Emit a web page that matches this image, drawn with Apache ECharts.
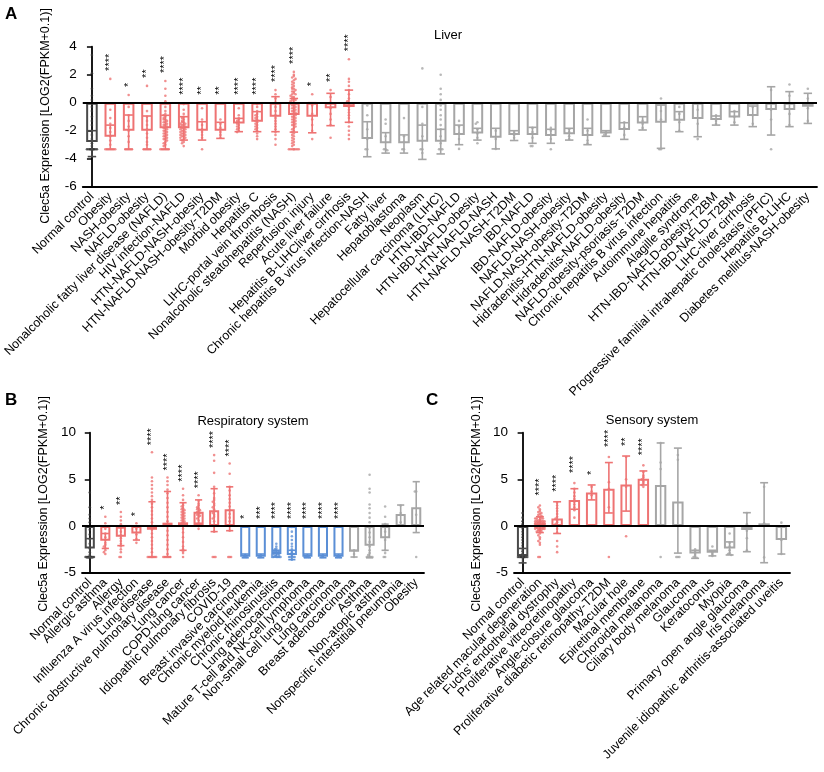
<!DOCTYPE html>
<html lang="en">
<head>
    <meta charset="UTF-8">
    <title>Clec5a expression</title>
    <script src="https://cdn.jsdelivr.net/npm/echarts@6/dist/echarts.min.js"></script>
    <style>
        * { margin: 0; padding: 0; }
        html, body { width: 824px; height: 772px; background: #fff; }
        #chart { width: 824px; height: 772px; }
    </style>
</head>
<body>
    <div id="chart"></div>
    <script>
        // ---------- Panel A: Liver ----------
        const catsA = ['Normal control', 'Obesity', 'NASH-obesity', 'NAFLD-obesity',
            'Nonalcoholic fatty liver disease (NAFLD)', 'HIV infection-NAFLD', 'HTN-NAFLD-NASH-obesity',
            'HTN-NAFLD-NASH-obesity-T2DM', 'Morbid obesity', 'Hepatitis C', 'LIHC-portal vein thrombosis',
            'Nonalcoholic steatohepatitis (NASH)', 'Reperfusion injury', 'Acute liver failure',
            'Hepatitis B-LIHCliver cirrhosis', 'Chronic hepatitis B virus infection-NASH', 'Fatty liver',
            'Hepatoblastoma', 'Neoplasm', 'Hepatocellular carcinoma (LIHC)', 'HTN-IBD-NAFLD',
            'HTN-IBD-NAFLD-obesity', 'HTN-NAFLD-NASH', 'HTN-NAFLD-NASH-T2DM', 'IBD-NAFLD',
            'IBD-NAFLD-obesity', 'NAFLD-NASH-obesity', 'NAFLD-NASH-obesity-T2DM',
            'Hidradenitis-HTN-NAFLD-obesity', 'Hidradenitis-NAFLD-obesity', 'NAFLD-obesity-psoriasis-T2DM',
            'Chronic hepatitis B virus infection', 'Autoimmune hepatitis', 'Alagille syndrome',
            'HTN-IBD-NAFLD-obesity-T2BM', 'HTN-IBD-NAFLD-T2BM', 'LIHC-liver cirrhosis',
            'Progressive familial intrahepatic cholestasis (PFIC)', 'Hepatitis B-LIHC',
            'Diabetes mellitus-NASH-obesity'];
        const meanA = [-2.8, -2.43, -2.0, -2.0, -1.83, -1.83, -2.0, -2.0, -1.48, -1.36, -1.0, -0.88, -1.0, -0.4, -0.3,
            -2.6, -2.9, -2.9, -2.79, -2.79, -2.31, -2.2, -2.5, -2.3, -2.3, -2.38, -2.26, -2.38, -2.2, -1.95,
            -1.48, -1.43, -1.29, -1.17, -1.24, -1.05, -0.95, -0.52, -0.52, -0.29];
        const hiA = [-2.0, -1.6, -0.88, -0.95, -0.9, -1.0, -1.36, -1.4, -1.12, -0.64, 0.43, 0.3, 0.0, 0.67, 0.9,
            -1.36, -2.14, -2.3, -1.6, -1.9, -1.6, -1.83, -1.83, -2.0, -1.76, -1.9, -1.83, -1.83, -2.0, -1.43,
            -1.0, -0.17, -0.64, 0.0, -0.95, -0.64, -0.24, 1.14, 0.79, 0.67];
        const loA = [-3.85, -3.33, -3.33, -3.33, -3.33, -2.67, -2.67, -2.55, -2.07, -2.07, -2.07, -2.1, -2.15, -1.64, -1.4,
            -3.86, -3.6, -3.6, -4.05, -3.66, -3.0, -2.67, -3.3, -2.7, -2.9, -2.9, -2.67, -3.0, -2.4, -2.62,
            -1.95, -3.26, -2.07, -2.43, -1.6, -1.6, -1.71, -2.31, -1.71, -1.48];
        const sigA = ['', '****', '*', '**', '****', '****', '**', '**', '****', '****', '****', '****', '*', '**', '****',
            '', '', '', '', '', '', '', '', '', '', '', '', '', '', '', '', '', '', '', '', '', '', '', '', ''];
        const ptsA = [
            [3.4, 2.1, 1.0, 0.5, 0.2, -0.3, -0.6, -1.0, -1.3, -1.6, -2.0, -2.3, -2.6, -2.9, -3.1, -3.32, -3.32, -3.32, -3.32, -3.32, -3.32, -3.32, -3.32, -3.32, -3.32],
            [1.7, -0.5, -1.1, -1.5, -1.8, -2.1, -2.4, -2.7, -3.0, -3.32, -3.32, -3.32, -3.32, -3.32, -3.32, -3.32],
            [0.55, -0.3, -0.9, -1.3, -1.7, -2.0, -2.4, -2.8, -3.32, -3.32, -3.32, -3.32, -3.32],
            [1.2, -0.6, -1.0, -1.3, -1.6, -1.9, -2.2, -2.5, -2.8, -3.0, -3.32, -3.32, -3.32, -3.32, -3.32],
            [1.55, 1.0, 0.5, 0.1, -0.3, -0.6, -0.8, -0.9, -1.0, -1.1, -1.2, -1.2, -1.3, -1.4, -1.4, -1.5, -1.6, -1.6, -1.7, -1.8, -1.8, -1.9, -2.0, -2.0, -2.1, -2.2, -2.2, -2.3, -2.4, -2.4, -2.5, -2.6, -2.6, -2.7, -2.8, -2.9, -3.0, -3.1, -3.32, -3.32, -3.32, -3.32, -3.32, -3.32],
            [-0.1, -0.5, -0.8, -1.0, -1.1, -1.2, -1.3, -1.4, -1.4, -1.5, -1.5, -1.6, -1.6, -1.7, -1.7, -1.8, -1.8, -1.9, -1.9, -2.0, -2.0, -2.1, -2.1, -2.2, -2.2, -2.3, -2.3, -2.4, -2.4, -2.5, -2.5, -2.6, -2.7, -2.8, -2.9, -3.1],
            [-0.4, -1.2, -1.6, -1.9, -2.1, -2.3, -2.5, -3.32],
            [-1.2, -1.5, -1.8, -2.1, -2.3, -2.5],
            [-0.4, -0.9, -1.1, -1.2, -1.3, -1.4, -1.5, -1.6, -1.7, -1.8, -1.9, -2.0, -2.1],
            [-0.1, -0.3, -0.6, -0.8, -0.9, -1.0, -1.1, -1.2, -1.3, -1.4, -1.5, -1.6, -1.7, -1.8, -1.9, -2.0, -2.2, -2.4, -2.6],
            [0.9, 0.6, 0.3, 0.0, -0.3, -0.6, -0.9, -1.1, -1.3, -1.5, -1.7, -1.9, -2.1, -2.3, -2.6, -3.0],
            [2.2, 2.0, 1.9, 1.8, 1.7, 1.6, 1.5, 1.4, 1.3, 1.2, 1.1, 1.0, 1.0, 0.9, 0.8, 0.8, 0.7, 0.6, 0.6, 0.5, 0.4, 0.4, 0.3, 0.2, 0.2, 0.1, 0.0, 0.0, -0.1, -0.2, -0.2, -0.3, -0.4, -0.4, -0.5, -0.6, -0.6, -0.7, -0.8, -0.8, -0.9, -1.0, -1.0, -1.1, -1.2, -1.2, -1.3, -1.4, -1.4, -1.5, -1.6, -1.6, -1.7, -1.8, -1.9, -2.0, -2.1, -2.2, -2.3, -2.4, -2.5, -2.6, -2.7, -2.8, -2.9, -3.0, -3.1, -3.32, -3.32, -3.32, -3.32, -3.32, -3.32, -3.32, -3.32],
            [0.6, -0.2, -0.8, -1.2, -1.6, -2.0, -2.6],
            [0.9, 0.4, 0.0, -0.4, -0.8, -1.2, -1.6, -2.5],
            [3.1, 1.7, 1.5, 1.2, 0.9, 0.6, 0.3, 0.1, -0.1, -0.3, -0.5, -0.7, -0.9, -1.1, -1.4, -1.7, -2.0, -2.3, -2.6],
            [-0.2, -0.9, -1.9, -2.6, -3.32, -3.32],
            [-1.2, -1.5, -2.4, -3.32, -3.32, -3.4],
            [-1.1, -2.4, -2.8, -3.32, -3.32],
            [2.45, -0.3, -1.5, -2.4, -3.32, -3.32, -3.6],
            [2.0, 1.0, 0.6, 0.2, -0.2, -0.5, -0.9, -1.2, -1.6, -1.9, -2.4, -2.9, -3.32, -3.32, -3.32],
            [-1.3, -1.7, -2.2, -2.6, -3.3],
            [-1.4, -1.5, -1.9, -2.2, -2.5, -2.9],
            [-2.0, -2.6, -3.3],
            [-2.1, -2.3, -2.5],
            [-1.8, -2.1, -2.5, -3.1, -3.1],
            [-1.8, -2.0, -2.3, -2.6, -3.32],
            [-1.9, -2.1, -2.4, -2.6],
            [-1.2, -2.0, -2.3, -2.7, -2.9],
            [-2.1, -2.2, -2.3],
            [-1.4, -1.8, -2.3],
            [-1.3, -1.5, -1.8],
            [0.3, -0.6, -1.2, -3.32, -3.32],
            [-0.3, -0.8, -1.4, -2.0],
            [-0.5, -1.5, -2.6],
            [-0.9, -1.3, -1.5],
            [-0.6, -1.0, -1.4],
            [-0.3, -0.9, -1.5],
            [0.9, -0.5, -1.2, -3.32],
            [1.3, 0.5, -0.8, -1.6],
            [1.0, 0.3, -0.4, -1.3]
        ];

        // ---------- Panel B: Respiratory system ----------
        const catsB = ['Normal control', 'Allergic asthma', 'Allergy', 'Influenza A virus infection', 'Lung disease',
            'Chronic obstructive pulmonary disease', 'Lung cancer', 'COPD-lung cancer', 'Idiopathic pulmonary fibrosis',
            'COVID-19', 'Breast invasive carcinoma', 'Chronic myeloid leukemia', 'Chronic rhinosinusitis',
            'Lung adenocarcinoma', 'Mature T-cell and NK-cell lymphoma', 'Non-small cell lung carcinoma',
            'Lung carcinoma', 'Breast adenocarcinoma', 'Asthma', 'Non-atopic asthma',
            'Nonspecific interstitial pneumonia', 'Obesity'];
        const meanB = [-2.4, -1.57, -1.14, -0.8, -0.4, 0.36, 0.4, 1.54, 1.7, 1.8, -3.3, -3.3, -3.0, -3.1, -3.3, -3.3, -3.3,
            -2.75, -2.1, -1.3, 1.3, 2.0];
        const hiB = [-1.35, -0.8, -0.2, -0.05, 2.6, 3.7, 2.5, 2.8, 4.0, 4.2, -3.0, -3.0, -2.6, -2.6, -3.0, -3.0, -3.0,
            -2.6, -0.1, 0.2, 2.25, 4.75];
        const loB = [-3.4, -2.4, -2.1, -1.5, -3.32, -3.3, -2.6, 0.3, -0.6, -0.5, -3.4, -3.4, -3.32, -3.6, -3.4, -3.4, -3.4,
            -3.32, -3.4, -2.6, 0.0, -0.7];
        const sigB = ['', '*', '**', '*', '****', '****', '****', '****', '****', '****', '*', '***', '****', '****', '****',
            '****', '****', '', '', '', '', ''];
        const ptsB = [
            [3.6, 2.0, 1.2, 0.8, 0.4, 0.0, -0.4, -0.9, -1.4, -1.9, -2.4, -2.8, -3.1, -3.32, -3.32, -3.32, -3.32, -3.32, -3.32, -3.32, -3.32, -3.32, -3.32],
            [1.0, 0.3, -0.3, -0.8, -1.2, -1.5, -1.8, -2.0, -2.2, -2.4, -2.6, -2.8, -3.0],
            [1.5, 1.0, 0.6, 0.2, -0.2, -0.6, -1.0, -1.3, -1.6, -1.9, -2.2, -2.5, -2.8, -3.32, -3.32],
            [0.3, -0.3, -0.9, -1.4, -1.8],
            [7.9, 5.2, 4.8, 4.4, 4.0, 3.6, 3.2, 2.8, 2.4, 2.0, 1.6, 1.2, 0.8, 0.4, 0.0, -0.4, -0.8, -1.2, -1.6, -2.0, -2.4, -2.8, -3.32, -3.32, -3.32, -3.32, -3.32, -3.32, -3.32, -3.32],
            [5.2, 4.8, 4.4, 3.9, 3.5, 3.0, 2.5, 2.0, 1.5, 1.0, 0.5, 0.0, -0.5, -1.0, -1.5, -2.0, -2.5, -3.0, -3.32, -3.32, -3.32, -3.32, -3.32, -3.32],
            [4.0, 3.3, 2.8, 2.4, 2.2, 2.1, 1.9, 1.8, 1.7, 1.6, 1.5, 1.4, 1.3, 1.2, 1.1, 1.0, 0.9, 0.8, 0.7, 0.6, 0.5, 0.4, 0.3, 0.2, 0.0, -0.3, -0.7, -1.2, -1.7, -2.2, -2.5, -2.7, -2.9, -3.32],
            [3.3, 2.7, 2.4, 2.2, 2.0, 1.9, 1.8, 1.7, 1.6, 1.5, 1.4, 1.3, 1.2, 1.1, 1.0, 0.8, 0.6, 0.3, 0.0, -0.3],
            [7.6, 7.0, 5.7, 4.2, 3.5, 3.0, 2.8, 2.6, 2.4, 2.2, 2.0, 1.8, 1.6, 1.4, 1.2, 1.0, 0.8, 0.5, 0.0, -0.6, -3.32, -3.32, -3.32],
            [6.7, 5.6, 4.2, 3.8, 3.3, 2.9, 2.5, 2.1, 1.7, 1.3, 0.9, 0.5, 0.0, -0.5, -3.32, -3.32, -3.32],
            [-3.1, -3.32, -3.32, -3.32],
            [-3.1, -3.32, -3.32],
            [-1.9, -2.2, -2.4, -2.5, -2.6, -2.7, -2.7, -2.8, -2.8, -2.9, -2.9, -3.0, -3.0, -3.1, -3.1, -3.2, -3.2, -3.32, -3.32, -3.32, -3.32, -3.32, -3.32],
            [-0.1, -0.6, -1.1, -1.5, -1.9, -2.2, -2.5, -2.8, -3.0, -3.2, -3.32, -3.32, -3.32, -3.32, -3.6],
            [-3.2, -3.32, -3.32, -3.32],
            [-3.1, -3.32, -3.32],
            [-3.2, -3.32, -3.32],
            [-2.6, -3.0, -3.32],
            [5.5, 4.0, 3.6, 2.3, 1.9, 1.4, 0.9, 0.4, -0.2, -0.7, -1.2, -1.7, -2.2, -2.6, -2.9, -3.1, -3.32, -3.32, -3.32, -3.32, -3.32],
            [2.1, 1.0, 0.2, -0.6, -1.5, -2.6, -2.9, -3.32, -3.32],
            [2.2, 1.4, 0.4],
            [3.7, 3.7, 1.2, -3.32]
        ];

        // ---------- Panel C: Sensory system ----------
        const catsC = ['Normal control', 'Age related macular degeneration', "Fuchs' endothelial dystrophy",
            'Proliferative vitreoretinopathy', 'Angle-closure glaucoma', 'Proliferative diabetic retinopathy-T2DM',
            'Macular hole', 'Epiretinal membrane', 'Choroidal melanoma', 'Ciliary body melanoma', 'Glaucoma',
            'Keratoconus', 'Myopia', 'Primary open angle glaucoma', 'Iris melanoma',
            'Juvenile idiopathic arthritis-associated uveitis'];
        const meanC = [-3.2, 0.2, 0.82, 2.8, 3.6, 4.0, 4.46, 5.07, 4.4, 2.64, -2.93, -2.86, -2.4, -0.43, 0.29, -1.5];
        const hiC = [-2.4, 1.0, 2.6, 4.0, 4.4, 6.8, 7.5, 5.9, 8.9, 8.35, -2.6, -2.6, -1.7, 1.43, 4.64, 0.0];
        const loC = [-3.95, -0.7, -0.8, 1.8, 2.8, 1.4, 1.6, 4.4, 0.0, -2.9, -3.46, -3.2, -3.1, -2.75, -3.93, -3.0];
        const sigC = ['', '****', '****', '****', '*', '****', '**', '****', '', '', '', '', '', '', '', ''];
        const ptsC = [
            [1.4, 0.9, 0.5, 0.2, 0.0, -0.3, -0.6, -0.9, -1.2, -1.5, -1.8, -2.1, -2.4, -2.7, -3.0, -3.32, -3.32, -3.32, -3.32, -3.32, -3.32, -3.32, -3.32, -3.32, -3.32],
            [2.2, 2.0, 1.8, 1.6, 1.5, 1.4, 1.3, 1.2, 1.1, 1.0, 1.0, 0.9, 0.8, 0.8, 0.8, 0.7, 0.6, 0.6, 0.6, 0.5, 0.5, 0.5, 0.5, 0.4, 0.4, 0.4, 0.4, 0.3, 0.3, 0.3, 0.3, 0.3, 0.2, 0.2, 0.2, 0.2, 0.2, 0.1, 0.1, 0.1, 0.1, 0.1, 0.0, 0.0, 0.0, 0.0, 0.0, -0.1, -0.1, -0.1, -0.1, -0.2, -0.2, -0.2, -0.2, -0.3, -0.3, -0.3, -0.4, -0.4, -0.4, -0.5, -0.5, -0.6, -0.6, -0.8, -1.0, -1.2, -1.4, -1.6, -1.8, -2.0, -3.32, -3.32],
            [2.5, 2.2, 1.9, 1.6, 1.3, 1.0, 0.8, 0.6, 0.4, 0.2, 0.0, -0.3, -0.7, -1.6, -2.2, -2.8],
            [4.6, 4.0, 3.6, 3.2, 2.9, 2.6, 2.3, 2.0, 1.7, 0.9],
            [4.2, 3.7, 3.3],
            [7.4, 4.7, 4.0, 2.0, -3.32],
            [7.4, 5.0, 4.2, -1.1],
            [6.5, 5.8, 5.4, 5.2, 5.0, 4.8, 4.6, 4.4, 4.2],
            [8.9, 6.8, 6.1, -3.32],
            [7.6, 7.1, -3.32, -3.32, -3.32],
            [-2.5, -2.8, -3.0, -3.2, -3.32, -3.4],
            [-2.2, -2.8, -3.0, -3.2],
            [-0.8, -1.8, -2.2, -2.6, -2.9, -3.0, -3.1],
            [1.4, 0.2, -0.5, -1.3, -2.6],
            [4.2, 0.3, -3.36],
            [0.36, -1.5, -3.0]
        ];

        // ---------- drawing ----------
        const FONT = 'Arial, "Liberation Sans", sans-serif';
        const RED = '#EE7373', GRAY = '#A6A6A6', BLUE = '#5B8FD6', CTRL = '#4A4A4A';

        const panels = [
            { cats: catsA, mean: meanA, hi: hiA, lo: loA, sig: sigA, pts: ptsA,
              grid: { left: 80, top: 46.7, width: 737, height: 140 },
              yMin: -6, yMax: 4, yStep: 2, barWidth: '63%', bin: 0.2, starPad: 8 },
            { cats: catsB, mean: meanB, hi: hiB, lo: loB, sig: sigB, pts: ptsB,
              grid: { left: 82, top: 432.7, width: 342, height: 140 },
              yMin: -5, yMax: 10, yStep: 5, barWidth: '65%', bin: 0.3, starPad: 7 },
            { cats: catsC, mean: meanC, hi: hiC, lo: loC, sig: sigC, pts: ptsC,
              grid: { left: 514, top: 432.7, width: 276, height: 140 },
              yMin: -5, yMax: 10, yStep: 5, barWidth: '66%', bin: 0.3, starPad: 10 }
        ];

        function colorOf(p, i) {
            if (i === 0) return CTRL;
            if (!p.sig[i]) return GRAY;
            return p.mean[i] > p.mean[0] ? RED : BLUE;
        }

        // beeswarm-like offsets for dots sharing a value bin
        const SPREAD = [0, -1, 1, -2, 2, -3, 3];
        function swarm(vals, bin) {
            const seen = {};
            return vals.map(v => {
                const key = Math.round(v / bin);
                const k = seen[key] || 0;
                seen[key] = k + 1;
                return SPREAD[k % SPREAD.length] * 0.09;
            });
        }

        const grid = [], xAxis = [], yAxis = [], series = [];

        panels.forEach((p, k) => {
            const n = p.cats.length;
            const cols = p.cats.map((c, i) => colorOf(p, i));
            grid.push(p.grid);
            xAxis.push({
                type: 'category', gridIndex: k, data: p.cats, position: 'bottom',
                axisLine: { onZero: false, lineStyle: { color: '#000', width: 1.8 } },
                axisTick: { alignWithLabel: true, length: 5, lineStyle: { color: '#000', width: 1.5 } },
                axisLabel: { interval: 0, rotate: 45, fontSize: 12.5, color: '#000', margin: 8, fontFamily: FONT }
            });
            xAxis.push({ type: 'value', gridIndex: k, min: -0.5, max: n - 0.5, show: false });
            yAxis.push({
                type: 'value', gridIndex: k, min: p.yMin, max: p.yMax, interval: p.yStep,
                axisLine: { show: true, lineStyle: { color: '#000', width: 1.8 } },
                axisTick: { show: true, length: 5, lineStyle: { color: '#000', width: 1.5 } },
                axisLabel: { fontSize: 13.5, color: '#000', margin: 6, fontFamily: FONT },
                splitLine: { show: false }
            });

            series.push({
                type: 'bar', xAxisIndex: 2 * k, yAxisIndex: k, barWidth: p.barWidth, z: 2,
                data: p.mean.map((v, i) => ({
                    value: v,
                    itemStyle: { color: 'rgba(255,255,255,0)', borderColor: cols[i], borderWidth: 2 }
                })),
                markLine: {
                    silent: true, symbol: 'none', label: { show: false }, animation: false,
                    lineStyle: { color: '#000', width: 2, type: 'solid' },
                    data: [{ yAxis: 0 }]
                }
            });

            const dots = [];
            p.pts.forEach((vals, i) => {
                const offs = swarm(vals, p.bin);
                vals.forEach((v, j) => {
                    dots.push({ value: [i + offs[j], v], itemStyle: { color: i === 0 ? '#333' : cols[i] } });
                });
            });
            series.push({
                type: 'scatter', xAxisIndex: 2 * k + 1, yAxisIndex: k, symbolSize: 2.6, z: 3,
                data: dots
            });

            series.push({
                type: 'custom', xAxisIndex: 2 * k, yAxisIndex: k, z: 4,
                data: p.mean.map((v, i) => [i, p.lo[i], p.hi[i]]),
                renderItem: function (params, api) {
                    const i = params.dataIndex;
                    const top = api.coord([i, p.hi[i]]);
                    const bot = api.coord([i, p.lo[i]]);
                    const half = api.size([1, 0])[0] * 0.23;
                    const style = { stroke: cols[i], lineWidth: 1.6 };
                    return {
                        type: 'group', children: [
                            { type: 'line', shape: { x1: top[0], y1: top[1], x2: bot[0], y2: bot[1] }, style: style },
                            { type: 'line', shape: { x1: top[0] - half, y1: top[1], x2: top[0] + half, y2: top[1] }, style: style },
                            { type: 'line', shape: { x1: bot[0] - half, y1: bot[1], x2: bot[0] + half, y2: bot[1] }, style: style }
                        ]
                    };
                }
            });

            // significance stars above the highest of bar top, whisker and dots
            const starData = [];
            p.sig.forEach((s, i) => {
                if (!s) return;
                starData.push([i, Math.max(0, p.hi[i], ...p.pts[i])]);
            });
            series.push({
                type: 'custom', xAxisIndex: 2 * k, yAxisIndex: k, z: 5,
                data: starData,
                renderItem: function (params, api) {
                    const d = starData[params.dataIndex];
                    const pt = api.coord([d[0], d[1]]);
                    return {
                        type: 'text', x: pt[0], y: pt[1] - p.starPad, rotation: Math.PI / 2,
                        style: { text: p.sig[d[0]], fontSize: 11, fontFamily: FONT, fill: '#000',
                                 align: 'left', verticalAlign: 'middle' }
                    };
                }
            });
        });

        const yName = 'Clec5a Expression [LOG2(FPKM+0.1)]';
        const graphic = [
            { type: 'text', x: 5, y: 6, style: { text: 'A', fontSize: 17, fontWeight: 'bold', fontFamily: FONT, fill: '#000' } },
            { type: 'text', x: 5, y: 392, style: { text: 'B', fontSize: 17, fontWeight: 'bold', fontFamily: FONT, fill: '#000' } },
            { type: 'text', x: 426, y: 392, style: { text: 'C', fontSize: 17, fontWeight: 'bold', fontFamily: FONT, fill: '#000' } },
            { type: 'text', x: 448, y: 35, style: { text: 'Liver', fontSize: 13, fontFamily: FONT, fill: '#000', align: 'center', verticalAlign: 'middle' } },
            { type: 'text', x: 253, y: 421, style: { text: 'Respiratory system', fontSize: 13, fontFamily: FONT, fill: '#000', align: 'center', verticalAlign: 'middle' } },
            { type: 'text', x: 652, y: 420, style: { text: 'Sensory system', fontSize: 13, fontFamily: FONT, fill: '#000', align: 'center', verticalAlign: 'middle' } },
            { type: 'text', x: 46, y: 116, rotation: Math.PI / 2, style: { text: yName, fontSize: 12.5, fontFamily: FONT, fill: '#000', align: 'center', verticalAlign: 'middle' } },
            { type: 'text', x: 44, y: 504, rotation: Math.PI / 2, style: { text: yName, fontSize: 12.5, fontFamily: FONT, fill: '#000', align: 'center', verticalAlign: 'middle' } },
            { type: 'text', x: 477, y: 504, rotation: Math.PI / 2, style: { text: yName, fontSize: 12.5, fontFamily: FONT, fill: '#000', align: 'center', verticalAlign: 'middle' } }
        ];

        const chart = echarts.init(document.getElementById('chart'));
        chart.setOption({
            animation: false,
            backgroundColor: '#fff',
            grid: grid,
            xAxis: xAxis,
            yAxis: yAxis,
            series: series,
            graphic: graphic
        });
    </script>
</body>
</html>
